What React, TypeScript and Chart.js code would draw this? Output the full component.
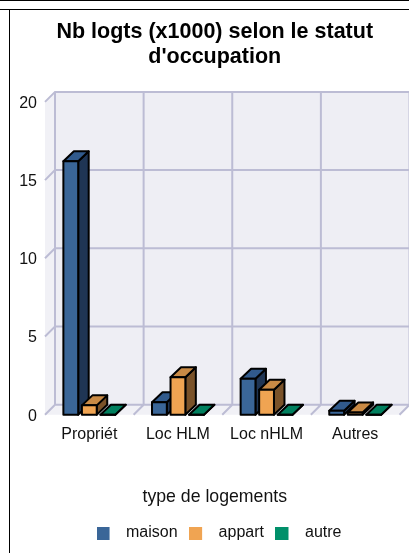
import React, { useEffect, useRef } from "react";
import { Chart, registerables } from "chart.js";

Chart.register(...registerables);

const categories = ["Propriét", "Loc HLM", "Loc nHLM", "Autres"];
const maison = [16.2, 0.8, 2.3, 0.25];
const appart = [0.6, 2.4, 1.6, 0.15];
const autre = [0, 0, 0, 0];
const titleLines = ["Nb logts (x1000) selon le statut", "d'occupation"];
const legendTitle = "type de logements";
const FONT = "'Liberation Sans', Arial, sans-serif";

const palette = [
  { front: "#3A6698", top: "#315A8C", side: "#1F3554" },
  { front: "#F0A452", top: "#C98A45", side: "#7A5229" },
  { front: "#00906A", top: "#007F5E", side: "#004F3A" },
];
const DX = 10.5;
const DY = 10;
const WALL_DX = 10;
const WALL_DY = 10;

function swatch(color: string) {
  const c = document.createElement("canvas");
  c.width = 22;
  c.height = 13;
  const g = c.getContext("2d")!;
  g.fillStyle = color;
  g.fillRect(0, 0, 13, 13);
  return c;
}

const depthPlugin = {
  id: "depth",
  afterLayout(chart: any) {
    chart.legend.lineWidths[0] -= 9;
    // tick labels are clipped to the axis box, so widen it to the left
    chart.scales.y.left -= 30;
  },
  beforeDatasetsDraw(chart: any) {
    const { ctx, scales } = chart;
    const x = scales.x;
    const y = scales.y;
    const area = chart.chartArea;
    const backBottom = area.bottom - WALL_DY;
    const backTop = area.top - WALL_DY;
    const backLeft = area.left + WALL_DX;
    const backRight = area.right + WALL_DX;
    ctx.save();
    ctx.fillStyle = "#EEEEF4";
    ctx.fillRect(backLeft, backTop, backRight - backLeft, backBottom - backTop);
    ctx.fillStyle = "#F1F1F6";
    ctx.beginPath();
    ctx.moveTo(area.left, area.top);
    ctx.lineTo(backLeft, backTop);
    ctx.lineTo(backLeft, backBottom);
    ctx.lineTo(area.left, area.bottom);
    ctx.closePath();
    ctx.fill();
    ctx.beginPath();
    ctx.moveTo(area.left, area.bottom);
    ctx.lineTo(backLeft, backBottom);
    ctx.lineTo(backRight, backBottom);
    ctx.lineTo(area.right, area.bottom);
    ctx.closePath();
    ctx.fill();
    ctx.strokeStyle = "#BCBCD4";
    ctx.lineWidth = 2;
    ctx.beginPath();
    y.ticks.forEach((t: any) => {
      const p = y.getPixelForValue(t.value);
      ctx.moveTo(area.left, p);
      ctx.lineTo(backLeft, p - WALL_DY);
      ctx.lineTo(backRight, p - WALL_DY);
    });
    const step = (area.right - area.left) / x.ticks.length;
    for (let i = 0; i <= x.ticks.length; i++) {
      const p = x.getPixelForTick(0) - step / 2 + i * step;
      ctx.moveTo(p, area.bottom);
      ctx.lineTo(p + WALL_DX, backBottom);
      ctx.lineTo(p + WALL_DX, backTop);
    }
    ctx.stroke();

    // side and top faces, left to right; the library then paints the front faces over them
    ctx.strokeStyle = "#000";
    ctx.lineJoin = "round";
    chart.data.datasets.forEach((_: any, i: number) => {
      const colors = palette[i];
      chart.getDatasetMeta(i).data.forEach((bar: any) => {
        const l = bar.x - bar.width / 2;
        const r = bar.x + bar.width / 2;
        ctx.fillStyle = colors.side;
        ctx.beginPath();
        ctx.moveTo(r, bar.y);
        ctx.lineTo(r + DX, bar.y - DY);
        ctx.lineTo(r + DX, bar.base - DY);
        ctx.lineTo(r, bar.base);
        ctx.closePath();
        ctx.fill();
        ctx.stroke();
        ctx.fillStyle = colors.top;
        ctx.beginPath();
        ctx.moveTo(l, bar.y);
        ctx.lineTo(l + DX, bar.y - DY);
        ctx.lineTo(r + DX, bar.y - DY);
        ctx.lineTo(r, bar.y);
        ctx.closePath();
        ctx.fill();
        ctx.stroke();
      });
    });
    ctx.restore();
  },
  afterDatasetsDraw(chart: any) {
    const { ctx } = chart;
    ctx.save();
    ctx.strokeStyle = "#000";
    ctx.lineWidth = 2;
    ctx.lineJoin = "round";
    chart.data.datasets.forEach((_: any, i: number) => {
      chart.getDatasetMeta(i).data.forEach((bar: any) => {
        ctx.strokeRect(bar.x - bar.width / 2, bar.y, bar.width, bar.base - bar.y);
      });
    });
    ctx.restore();
  },
};

export default function App() {
  const ref = useRef<HTMLCanvasElement>(null);
  useEffect(() => {
    document.body.style.margin = "0";
    document.body.style.background = "#fff";
    const chart = new Chart(ref.current!, {
      type: "bar",
      data: {
        labels: categories,
        datasets: [
          { label: "maison", data: maison, backgroundColor: palette[0].front },
          { label: "appart", data: appart, backgroundColor: palette[1].front },
          { label: "autre", data: autre, backgroundColor: palette[2].front },
        ],
      },
      plugins: [depthPlugin],
      options: {
        animation: false,
        responsive: false,
        layout: { padding: { left: 20, right: 9.5, bottom: 2 } },
        categoryPercentage: 0.627,
        barPercentage: 0.8,
        scales: {
          x: {
            grid: { display: false, drawTicks: false },
            border: { display: false },
            ticks: { font: { family: FONT, size: 16 }, color: "#111", padding: 10, maxRotation: 0, autoSkip: false },
            afterFit(s: any) { s.height = 74; },
          },
          y: {
            min: 0,
            max: 20,
            grid: { display: false, drawTicks: false },
            border: { display: false },
            ticks: {
              stepSize: 5,
              // the empty first line nudges the label down to sit where the reference has it
              callback: (value: number) => ["", String(value)],
              font: { family: FONT, size: 16, lineHeight: "3px" },
              color: "#111",
              padding: 8,
            },
            afterFit(s: any) { s.width = 15; },
          },
        },
        plugins: {
          title: {
            display: true,
            text: titleLines,
            color: "#000",
            font: { family: FONT, size: 21.5, weight: "bold", lineHeight: 1.16 },
            padding: { top: 10, bottom: 32 },
          },
          tooltip: { enabled: false },
          legend: {
            position: "bottom",
            title: {
              display: true,
              text: legendTitle,
              color: "#111",
              font: { family: FONT, size: 17.7 },
              padding: { top: 0, bottom: 3 },
            },
            labels: {
              color: "#111",
              font: { family: FONT, size: 16 },
              usePointStyle: true,
              pointStyleWidth: 21,
              padding: 12,
              generateLabels(c: any) {
                return Chart.defaults.plugins.legend.labels.generateLabels(c).map((item: any, i: number) => ({
                  ...item,
                  pointStyle: swatch(palette[i].front),
                  lineWidth: 0,
                }));
              },
            },
          },
        },
      } as any,
    } as any);
    return () => chart.destroy();
  }, []);
  return (
    <div style={{ position: "relative", width: 409, height: 553, overflow: "hidden", background: "#fff" }}>
      <div style={{ position: "absolute", left: 0, top: 0, width: 409, height: 1, background: "#000" }} />
      <div style={{ position: "absolute", left: 0, top: 9, width: 409, height: 1, background: "#000" }} />
      <div style={{ position: "absolute", left: 9, top: 9, width: 1, height: 544, background: "#000" }} />
      <canvas ref={ref} width={399} height={543} style={{ position: "absolute", left: 10, top: 10, display: "block" }} />
    </div>
  );
}
